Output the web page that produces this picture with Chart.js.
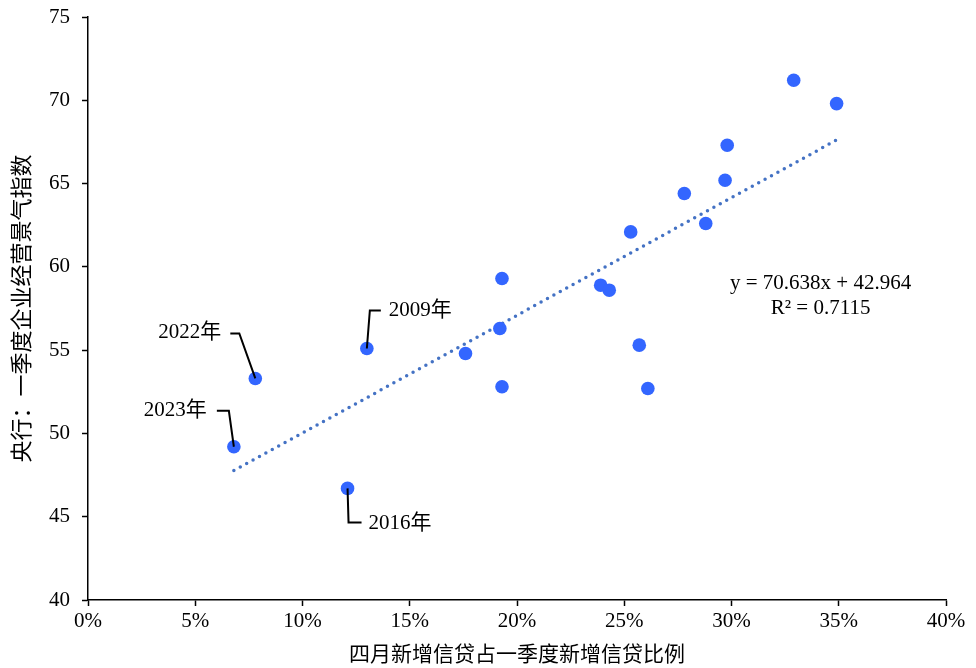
<!DOCTYPE html>
<html>
<head>
<meta charset="utf-8">
<script src="https://cdn.jsdelivr.net/npm/chart.js@4"></script>
<style>
  html, body { margin: 0; padding: 0; background: #fff; }
  #wrap { width: 976px; height: 668px; }
</style>
</head>
<body>
<div id="wrap"><canvas id="c" width="976" height="668"></canvas></div>
<script>
// April new loans share of Q1 new loans (%) vs PBoC entrepreneur business climate index
var xShare = [6.8, 7.8, 12.1, 13.0, 17.6, 19.2, 19.3, 19.3, 23.9, 24.3, 25.3, 25.7, 26.1, 27.8, 28.8, 29.7, 29.8, 32.9, 34.9];
var yIndex = [49.2, 53.3, 46.7, 55.1, 54.8, 56.3, 59.3, 52.8, 58.9, 58.6, 62.1, 55.3, 52.7, 64.4, 62.6, 65.2, 67.3, 71.2, 69.8];
var trendCoef = [70.638, 42.964]; // slope (per unit share), intercept
var trendText = ['y = 70.638x + 42.964', 'R² = 0.7115'];
var xTicks = [0, 5, 10, 15, 20, 25, 30, 35, 40];
var yTicks = [40, 45, 50, 55, 60, 65, 70, 75];
var calloutLabels = ['2023年', '2022年', '2016年', '2009年'];
var calloutIndex = [0, 1, 2, 3];

var FONT = '"Liberation Serif", "Times New Roman", "Noto Sans CJK SC", serif';
var FS = 21;

// callout geometry (pixel offsets from the point): elbow, end, text anchor
var calloutStyle = [
  { elbow: [-5, -36], end: [-17, -36], text: [-27, -36], align: 'right' },
  { elbow: [-16, -45], end: [-25, -45], text: [-34, -46], align: 'right' },
  { elbow: [1, 34], end: [14, 34], text: [21, 35], align: 'left' },
  { elbow: [3, -38], end: [14, -38], text: [22, -38], align: 'left' }
];

var points = xShare.map(function (x, i) { return { x: x, y: yIndex[i] }; });
var xMinData = Math.min.apply(null, xShare);
var xMaxData = Math.max.apply(null, xShare);
var trendPts = [xMinData, xMaxData].map(function (x) {
  return { x: x, y: trendCoef[0] * x / 100 + trendCoef[1] };
});

var calloutPlugin = {
  id: 'callouts',
  afterDatasetsDraw: function (chart) {
    var ctx = chart.ctx;
    var meta = chart.getDatasetMeta(1);
    ctx.save();
    ctx.strokeStyle = '#000';
    ctx.lineWidth = 2;
    ctx.font = FS + 'px ' + FONT;
    ctx.fillStyle = '#000';
    ctx.textBaseline = 'middle';
    calloutIndex.forEach(function (idx, k) {
      var el = meta.data[idx];
      var s = calloutStyle[k];
      ctx.beginPath();
      ctx.moveTo(el.x, el.y);
      ctx.lineTo(el.x + s.elbow[0], el.y + s.elbow[1]);
      ctx.lineTo(el.x + s.end[0], el.y + s.end[1]);
      ctx.stroke();
      ctx.textAlign = s.align;
      ctx.fillText(calloutLabels[k], el.x + s.text[0], el.y + s.text[1]);
    });
    // regression equation
    var sx = chart.scales.x, sy = chart.scales.y;
    var ex = sx.getPixelForValue(34.9) - 16;
    var ey = sy.getPixelForValue(59.0);
    ctx.textAlign = 'center';
    ctx.fillText(trendText[0], ex, ey);
    ctx.fillText(trendText[1], ex, ey + 25);
    ctx.restore();
  }
};

new Chart(document.getElementById('c').getContext('2d'), {
  type: 'scatter',
  data: {
    datasets: [
      {
        type: 'line',
        label: 'trend',
        data: trendPts,
        borderColor: '#4472C4',
        borderWidth: 3.5,
        borderDash: [0, 7.3],
        borderCapStyle: 'round',
        pointRadius: 0,
        fill: false,
        order: 2
      },
      {
        label: 'points',
        data: points,
        backgroundColor: '#3366FF',
        borderColor: '#3366FF',
        pointRadius: 6.8,
        pointHoverRadius: 6.8,
        borderWidth: 0,
        order: 1
      }
    ]
  },
  options: {
    responsive: false,
    animation: false,
    layout: { padding: { top: 17, right: 30, left: 0, bottom: 0 } },
    plugins: {
      legend: { display: false },
      tooltip: { enabled: false }
    },
    scales: {
      x: {
        type: 'linear',
        min: 0, max: 40,
        afterBuildTicks: function (s) { s.ticks = xTicks.map(function (v) { return { value: v }; }); },
        afterFit: function (s) { s.height = 68; s.paddingLeft = 0; s.paddingRight = 0; },
        border: { color: '#000', width: 1.5 },
        grid: { display: true, drawOnChartArea: false, drawTicks: true, tickLength: 6, color: '#000', tickWidth: 1.5 },
        ticks: {
          color: '#000', padding: 3, maxRotation: 0,
          font: { family: FONT, size: FS },
          callback: function (v) { return v + '%'; }
        },
        title: {
          display: true, text: '四月新增信贷占一季度新增信贷比例', color: '#000',
          font: { family: FONT, size: FS }, padding: { top: 0, bottom: 0 }
        }
      },
      y: {
        type: 'linear',
        min: 40, max: 75,
        afterBuildTicks: function (s) { s.ticks = yTicks.map(function (v) { return { value: v }; }); },
        afterFit: function (s) { s.width = 88; s.paddingTop = 0; s.paddingBottom = 0; },
        border: { color: '#000', width: 1.5 },
        grid: { display: true, drawOnChartArea: false, drawTicks: true, tickLength: 6, color: '#000', tickWidth: 1.5 },
        ticks: {
          color: '#000', padding: 12,
          font: { family: FONT, size: FS }
        },
        title: {
          display: true, text: '央行：一季度企业经营景气指数', color: '#000',
          font: { family: FONT, size: 22 }, padding: { top: 10, bottom: 4 }
        }
      }
    }
  },
  plugins: [calloutPlugin]
});
</script>
</body>
</html>
